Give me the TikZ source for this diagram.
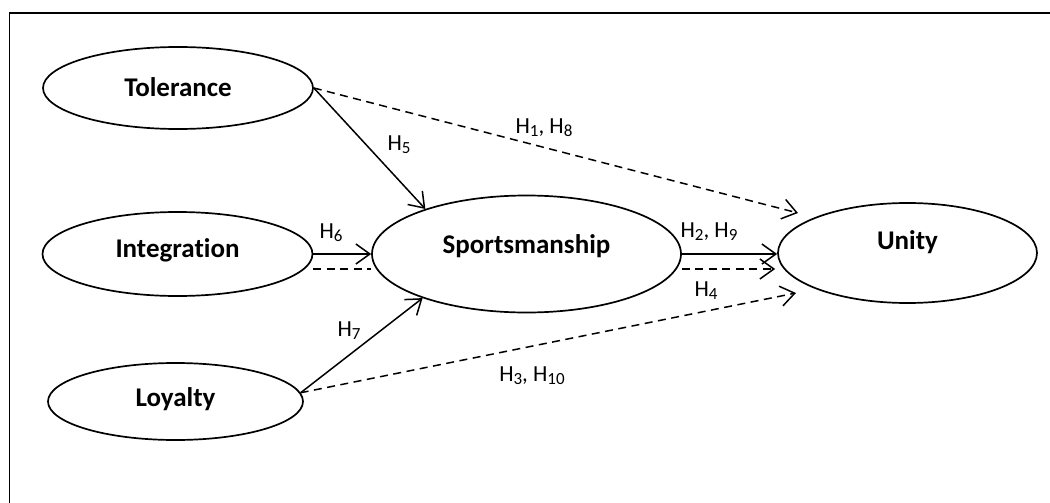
\documentclass[tikz,border=0pt]{standalone}
\usepackage{fontspec}
\setmainfont{Carlito}[Ligatures=NoCommon]
\usetikzlibrary{shapes.geometric,arrows.meta,calc}
\newcommand\hsub[1]{H\raisebox{-3pt}{\fontsize{17}{17}\selectfont #1}}
\begin{document}
\begin{tikzpicture}[x=1pt,y=-1pt,
  var/.style={draw, ellipse, line width=1.7pt, inner sep=0pt},
  conn/.style={line width=1.5pt, -{Straight Barb[length=14pt,width=20pt]}},
  dconn/.style={conn, dash pattern=on 8pt off 5.5pt},
  dline/.style={line width=1.5pt, dash pattern=on 8pt off 5.5pt},
  hyp/.style={font=\fontsize{23}{27}\selectfont, inner sep=0pt},
  ttl/.style={font=\bfseries\fontsize{27}{31}\selectfont, inner sep=0pt}
]
\useasboundingbox (0,0) rectangle (1050,503);
\draw[line width=1.7pt] (9.5,503) -- (9.5,13) -- (1050,13);

\node[var, minimum width=270pt, minimum height=82pt,
      label={[ttl, yshift=0.6pt]center:Tolerance}] (tol) at (178,88) {};
\node[var, minimum width=270pt, minimum height=84pt,
      label={[ttl, yshift=3.6pt]center:Integration}] (int) at (177.5,254) {};
\node[var, minimum width=255pt, minimum height=77pt,
      label={[ttl, yshift=2pt]center:Loyalty}] (loy) at (175.5,401.5) {};
\node[var, minimum width=309pt, minimum height=117pt,
      label={[ttl, yshift=7.6pt]center:Sportsmanship}] (spo) at (526.5,254) {};
\node[var, minimum width=259pt, minimum height=100pt,
      label={[ttl, yshift=10.6pt]center:Unity}] (uni) at (907.5,253) {};

\coordinate (u1) at (798,213);
\coordinate (u4) at (796,293);

\draw[conn] (tol.east) -- (spo.156);
\draw[dconn] (tol.east) -- (u1);
\draw[conn] (int.east) -- (int.east -| spo.west);
\draw[dline] ($(int.east)+(0,15)$) -- ($(int.east -| spo.west)+(0,15)$);
\draw[conn] (spo.east) -- (spo.east -| uni.west);
\draw[dconn] ($(spo.east)+(0,15)$) -- ($(spo.east -| uni.west)+(-2,15)$);
\draw[conn] (loy.4) -- (spo.203);
\draw[dconn] (loy.4) -- (u4);

\node[hyp] (h5) at (399,145) {\hsub{5}};
\node[hyp] (h18) at (544,128) {\hsub{1}, \hsub{8}};
\node[hyp] (h6) at (331,233) {\hsub{6}};
\node[hyp] (h29) at (709,232) {\hsub{2}, \hsub{9}};
\node[hyp] (h4) at (706,291) {\hsub{4}};
\node[hyp] (h7) at (349,331) {\hsub{7}};
\node[hyp] (h310) at (532,376) {\hsub{3}, \hsub{10}};
\end{tikzpicture}
\end{document}
